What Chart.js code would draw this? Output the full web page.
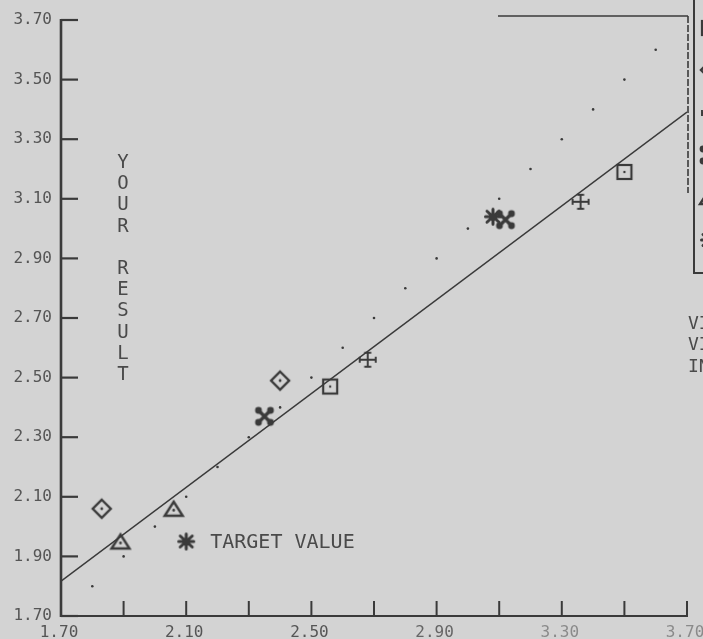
<!DOCTYPE html>
<html>
<head>
<meta charset="utf-8">
<script src="https://cdn.jsdelivr.net/npm/chart.js@4/dist/chart.umd.min.js"></script>
<style>
  html, body { margin: 0; padding: 0; background: #d3d3d3; }
  canvas { display: block; }
</style>
</head>
<body>
<canvas id="chart" width="703" height="639"></canvas>
<script>
// ---- data ----
const identityX = [1.80, 1.90, 2.00, 2.10, 2.20, 2.30, 2.40, 2.50, 2.60, 2.70, 2.80, 2.90, 3.00, 3.10, 3.20, 3.30, 3.40, 3.50, 3.60];
const identityY = [1.80, 1.90, 2.00, 2.10, 2.20, 2.30, 2.40, 2.50, 2.60, 2.70, 2.80, 2.90, 3.00, 3.10, 3.20, 3.30, 3.40, 3.50, 3.60];
const fitX = [1.70, 3.70];
const fitY = [1.817, 3.391];

const diamondX = [1.83, 2.40];
const diamondY = [2.06, 2.49];
const triangleX = [1.89, 2.06];
const triangleY = [1.95, 2.06];
const squareX = [2.56, 3.50];
const squareY = [2.47, 3.19];
const crossX = [2.68, 3.36];
const crossY = [2.56, 3.09];
const cloverX = [2.35, 3.12];
const cloverY = [2.37, 3.03];
const targetX = [3.08];
const targetY = [3.04];

const xTicks = [1.70, 1.90, 2.10, 2.30, 2.50, 2.70, 2.90, 3.10, 3.30, 3.50, 3.70];
const xLabelValues = [1.70, 2.10, 2.50, 2.90, 3.30, 3.70];
const xLabels = ['1.70', '2.10', '2.50', '2.90', '3.30', '3.70'];
const xLabelShades = ['#555', '#555', '#555', '#666', '#8a8a8a', '#8a8a8a'];
const yTicks = [1.70, 1.90, 2.10, 2.30, 2.50, 2.70, 2.90, 3.10, 3.30, 3.50, 3.70];
const yLabels = ['1.70', '1.90', '2.10', '2.30', '2.50', '2.70', '2.90', '3.10', '3.30', '3.50', '3.70'];

const yTitle = 'YOUR RESULT';
const keyText = 'TARGET VALUE';
const keyAt = [2.10, 1.95];
const sideText = ['VI', 'VI', 'IN'];

// ---- look ----
const INK = '#3a3a3a';
const TEXT = '#4a4a4a';
const MONO = '"DejaVu Sans Mono", monospace';

const pts = (xs, ys) => xs.map((x, i) => ({ x, y: ys[i] }));

function makeSymbol(draw, size) {
  const c = document.createElement('canvas');
  c.width = size; c.height = size;
  const g = c.getContext('2d');
  g.translate(size / 2, size / 2);
  g.strokeStyle = INK; g.fillStyle = INK;
  g.lineCap = 'round'; g.lineJoin = 'miter';
  draw(g);
  return c;
}
function dot(g, x, y, r) { g.beginPath(); g.arc(x, y, r, 0, Math.PI * 2); g.fill(); }

const symDiamond = makeSymbol(g => {
  g.lineWidth = 2.4;
  g.beginPath(); g.moveTo(0, -9); g.lineTo(9, 0); g.lineTo(0, 9); g.lineTo(-9, 0); g.closePath(); g.stroke();
  dot(g, 0, 0, 1.4);
}, 24);
const symTriangle = makeSymbol(g => {
  g.lineWidth = 2.4;
  g.beginPath(); g.moveTo(0, -7); g.lineTo(9, 7); g.lineTo(-9, 7); g.closePath(); g.stroke();
  dot(g, 0, 1.5, 1.4);
}, 24);
const symSquare = makeSymbol(g => {
  g.lineWidth = 2.2;
  g.strokeRect(-7, -7, 14, 14);
  dot(g, 0, 0, 1.2);
}, 22);
const symCross = makeSymbol(g => {
  g.lineWidth = 1.9; g.lineCap = 'butt';
  g.beginPath();
  g.moveTo(-8, 0); g.lineTo(8, 0);
  g.moveTo(0, -7); g.lineTo(0, 7);
  g.moveTo(-8, -3); g.lineTo(-8, 3);
  g.moveTo(8, -3); g.lineTo(8, 3);
  g.moveTo(-3.5, -7); g.lineTo(3.5, -7);
  g.moveTo(-3.5, 7); g.lineTo(3.5, 7);
  g.stroke();
}, 22);
const symClover = makeSymbol(g => {
  g.lineWidth = 3.4;
  g.beginPath(); g.moveTo(-6, -6); g.lineTo(6, 6); g.moveTo(6, -6); g.lineTo(-6, 6); g.stroke();
  dot(g, -6, -6, 3.4); dot(g, 6, -6, 3.4); dot(g, -6, 6, 3.4); dot(g, 6, 6, 3.4);
}, 24);
const symStar = makeSymbol(g => {
  g.lineWidth = 3;
  g.beginPath();
  g.moveTo(0, -7.5); g.lineTo(0, 7.5);
  g.moveTo(-7.5, 0); g.lineTo(7.5, 0);
  g.moveTo(-6, -5.5); g.lineTo(6, 5.5);
  g.moveTo(6, -5.5); g.lineTo(-6, 5.5);
  g.stroke();
}, 22);

function markerSet(xs, ys, img) {
  return { type: 'scatter', data: pts(xs, ys), pointStyle: img, pointRadius: 8, pointHoverRadius: 8 };
}

// axes, annotation text and the framing drawn on top of the chart
const decorPlugin = {
  id: 'decor',
  beforeDraw(chart) {
    const c = chart.ctx;
    c.save(); c.fillStyle = '#d3d3d3'; c.fillRect(0, 0, chart.width, chart.height); c.restore();
  },
  beforeDatasetsDraw(chart) {
    const c = chart.ctx, xs = chart.scales.x, ys = chart.scales.y;
    const x0 = xs.getPixelForValue(xTicks[0]);
    const x1 = xs.getPixelForValue(xTicks[xTicks.length - 1]);
    const yb = ys.getPixelForValue(yTicks[0]);
    const yt = ys.getPixelForValue(yTicks[yTicks.length - 1]);
    c.save();
    c.strokeStyle = INK; c.lineCap = 'butt';
    // vertical axis with inward ticks
    c.lineWidth = 2.6;
    c.beginPath(); c.moveTo(x0, yt - 1); c.lineTo(x0, yb + 1); c.stroke();
    c.lineWidth = 2.2;
    yTicks.forEach(v => {
      const y = ys.getPixelForValue(v);
      c.beginPath(); c.moveTo(x0, y); c.lineTo(x0 + 17, y); c.stroke();
    });
    // horizontal axis with inward ticks
    c.lineWidth = 2;
    c.beginPath(); c.moveTo(x0, yb); c.lineTo(x1 + 1, yb); c.stroke();
    xTicks.forEach(v => {
      const x = xs.getPixelForValue(v);
      c.beginPath(); c.moveTo(x, yb); c.lineTo(x, yb - 15); c.stroke();
    });
    // horizontal axis labels
    c.font = '16px ' + MONO; c.textAlign = 'center'; c.textBaseline = 'alphabetic';
    xLabelValues.forEach((v, i) => {
      c.fillStyle = xLabelShades[i];
      c.fillText(xLabels[i], xs.getPixelForValue(v) - 2, yb + 21);
    });
    // stacked axis title
    c.fillStyle = TEXT; c.font = '19px ' + MONO; c.textBaseline = 'middle';
    [...yTitle].forEach((ch, i) => c.fillText(ch, 123, 163 + i * 21.2));
    // key for the target marker
    const kx = xs.getPixelForValue(keyAt[0]), ky = ys.getPixelForValue(keyAt[1]);
    c.drawImage(symStar, kx - symStar.width / 2, ky - symStar.height / 2);
    c.font = '20px ' + MONO; c.textAlign = 'left';
    c.fillText(keyText, kx + 24, ky + 1);
    // framing at the right
    c.lineWidth = 1.6;
    c.beginPath(); c.moveTo(498, 16); c.lineTo(688, 16); c.stroke();
    c.setLineDash([7, 2]);
    c.beginPath(); c.moveTo(688, 16); c.lineTo(688, 193); c.stroke();
    c.setLineDash([]);
    c.lineWidth = 2;
    c.beginPath(); c.moveTo(694, 0); c.lineTo(694, 273); c.lineTo(703, 273); c.stroke();
    const keys = [[symSquare, 709, 28], [symDiamond, 710, 70], [symCross, 710, 113],
                  [symClover, 709, 155], [symTriangle, 709, 197], [symStar, 709, 240]];
    keys.forEach(([img, x, y]) => c.drawImage(img, x - img.width / 2, y - img.height / 2));
    c.font = '18px ' + MONO; c.textAlign = 'left'; c.fillStyle = TEXT;
    sideText.forEach((t, i) => c.fillText(t, 688, 324 + i * 21.5));
    c.restore();
  }
};

new Chart(document.getElementById('chart'), {
  type: 'scatter',
  data: {
    datasets: [
      { type: 'scatter', data: pts(identityX, identityY), pointStyle: 'circle', pointRadius: 1.3,
        backgroundColor: INK, borderWidth: 0 },
      { type: 'scatter', data: pts(fitX, fitY), showLine: true, borderColor: INK, borderWidth: 1.6,
        pointRadius: 0, fill: false },
      markerSet(diamondX, diamondY, symDiamond),
      markerSet(triangleX, triangleY, symTriangle),
      markerSet(squareX, squareY, symSquare),
      markerSet(crossX, crossY, symCross),
      markerSet(cloverX, cloverY, symClover),
      markerSet(targetX, targetY, symStar)
    ]
  },
  options: {
    responsive: false,
    animation: false,
    devicePixelRatio: 1,
    layout: { padding: { top: 20, right: 16, left: 0, bottom: 0 } },
    plugins: { legend: { display: false }, tooltip: { enabled: false } },
    scales: {
      x: {
        type: 'linear', min: 1.70, max: 3.70,
        grid: { display: false, drawTicks: false },
        border: { display: false },
        ticks: { display: false },
        afterFit: s => { s.height = 23; }
      },
      y: {
        type: 'linear', min: 1.70, max: 3.70,
        grid: { display: false, drawTicks: false },
        border: { display: false },
        afterBuildTicks: s => { s.ticks = yTicks.map(v => ({ value: v })); },
        ticks: {
          color: '#555', padding: 9,
          font: { family: 'DejaVu Sans Mono', size: 16 },
          callback: (v, i) => yLabels[i]
        },
        afterFit: s => { s.width = 61; }
      }
    }
  },
  plugins: [decorPlugin]
});
</script>
</body>
</html>
